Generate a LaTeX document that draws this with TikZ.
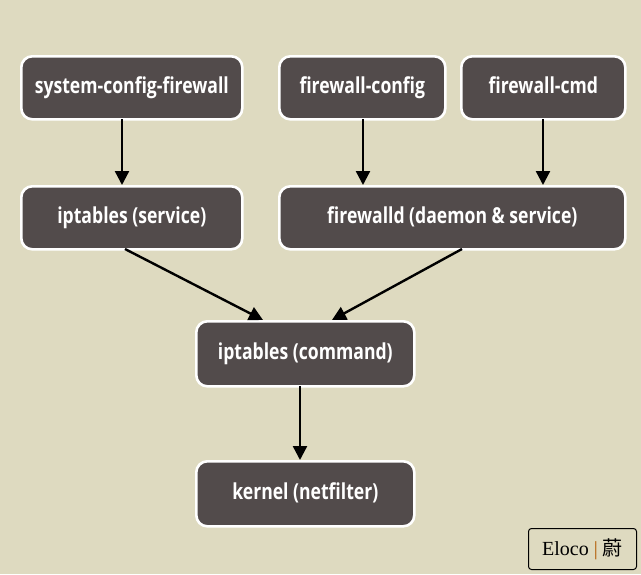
\documentclass[tikz,border=0pt]{standalone}
\usepackage{fontspec}
\setmainfont{Open Sans}[FakeStretch=0.8]
\newfontfamily\wmfont{Liberation Serif}
\newfontfamily\cjk{Noto Sans CJK SC}
\usetikzlibrary{arrows.meta}
\definecolor{bg}{RGB}{222,218,192}
\definecolor{boxfill}{RGB}{82,75,75}
\tikzset{
  box/.style={draw=white, line width=2.6pt, fill=boxfill, rounded corners=11pt,
    text=white, font=\fontsize{22}{26}\selectfont\bfseries, inner sep=0pt,
    text height=16pt, text depth=5pt, anchor=north west},
  arr/.style={-{Triangle[length=14pt,width=14pt]}, line width=2.4pt, black},
}
\begin{document}
\begin{tikzpicture}[x=1pt,y=-1pt]
\fill[bg] (0,0) rectangle (641,574);
\useasboundingbox (0,0) rectangle (641,574);
\node[box, minimum width=221pt, minimum height=63pt] (scf) at (20,55) {system-config-firewall};
\node[box, minimum width=166pt, minimum height=63pt] (fwc) at (278,55) {firewall-config};
\node[box, minimum width=164pt, minimum height=63pt] (fcmd) at (460,55) {firewall-cmd};
\node[box, minimum width=221pt, minimum height=63pt] (ips) at (20,185) {iptables (service)};
\node[box, minimum width=346pt, minimum height=63pt] (fwd) at (278,185) {firewalld (daemon \& service)};
\node[box, minimum width=218pt, minimum height=65pt] (ipc) at (195,320) {iptables (command)};
\node[box, minimum width=218pt, minimum height=65pt] (ker) at (195,460) {kernel (netfilter)};
\coordinate (s1) at (122,119);
\coordinate (s2) at (363,119);
\coordinate (s3) at (543,119);
\coordinate (s4) at (300,386);
\draw[arr] (s1) -- (s1 |- ips.north);
\draw[arr] (s2) -- (s2 |- fwd.north);
\draw[arr] (s3) -- (s3 |- fwd.north);
\draw[arr] (s4) -- (s4 |- ker.north);
\coordinate (a1) at (125,249);
\coordinate (a2) at (462,249);
\coordinate (t1) at (263,320);
\coordinate (t2) at (332,320);
\draw[arr] (a1) -- (t1);
\draw[arr] (a2) -- (t2);
\node[draw=black, line width=1pt, rounded corners=3pt, fill=bg, minimum width=108pt, minimum height=41pt, inner sep=0pt, anchor=north west, font=\fontsize{20}{24}\selectfont] (wm) at (528,528) {\wmfont Eloco \textcolor{orange!70!black}{|} \cjk 蔚};
\end{tikzpicture}
\end{document}
